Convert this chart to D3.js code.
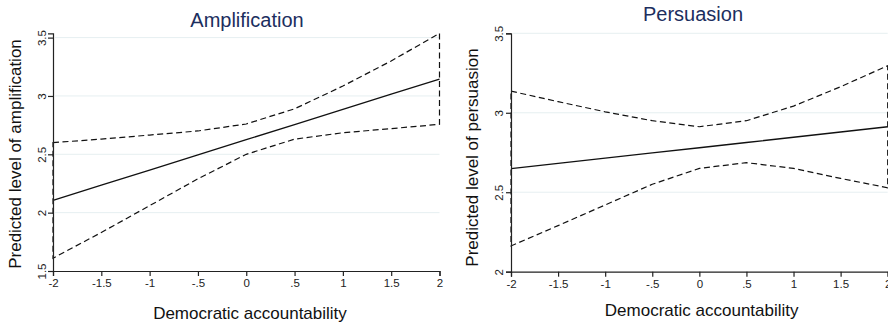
<!DOCTYPE html>
<html>
<head>
<meta charset="utf-8">
<script src="https://cdn.jsdelivr.net/npm/d3@7"></script>
<style>
  html, body { margin: 0; padding: 0; background: #fff; }
  svg { display: block; }
  text { font-family: Arial, "Liberation Sans", Helvetica, sans-serif; }
</style>
</head>
<body>
<svg id="chart" width="888" height="326"></svg>
<script>
// ---- Data ----
const xValues = [-2, -1.5, -1, -0.5, 0, 0.5, 1, 1.5, 2];
const xTickValues = [-2, -1.5, -1, -0.5, 0, 0.5, 1, 1.5, 2];
const xTickLabels = ["-2", "-1.5", "-1", "-.5", "0", ".5", "1", "1.5", "2"];

const ampTitle = "Amplification";
const ampYLabel = "Predicted level of amplification";
const ampFit   = [2.105, 2.235, 2.365, 2.495, 2.625, 2.755, 2.885, 3.015, 3.145];
const ampUpper = [2.60, 2.63, 2.665, 2.70, 2.76, 2.89, 3.085, 3.30, 3.537];
const ampLower = [1.61, 1.83, 2.06, 2.29, 2.50, 2.63, 2.685, 2.72, 2.757];
const ampYTicks = [1.5, 2, 2.5, 3, 3.5];
const ampYTickLabels = ["1.5", "2", "2.5", "3", "3.5"];

const perTitle = "Persuasion";
const perYLabel = "Predicted level of persuasion";
const perFit   = [2.648, 2.681, 2.714, 2.747, 2.78, 2.813, 2.846, 2.879, 2.912];
const perUpper = [3.136, 3.07, 3.006, 2.95, 2.912, 2.95, 3.042, 3.164, 3.296];
const perLower = [2.162, 2.29, 2.42, 2.55, 2.65, 2.686, 2.65, 2.587, 2.528];
const perYTicks = [2, 2.5, 3, 3.5];
const perYTickLabels = ["2", "2.5", "3", "3.5"];

const xLabel = "Democratic accountability";

// ---- Drawing ----
const svg = d3.select("#chart");

function panel(cfg) {
  const g = svg.append("g");
  const x = d3.scaleLinear().domain([-2, 2]).range([cfg.x0, cfg.x1]);
  const y = d3.scaleLinear().domain(cfg.yDomain).range([cfg.yBottom, cfg.yTop]);

  // gridlines
  g.selectAll("line.grid").data(cfg.yTicks.filter(d => d !== cfg.yDomain[0]))
    .enter().append("line")
    .attr("x1", cfg.x0 + 2).attr("x2", cfg.x1)
    .attr("y1", d => y(d)).attr("y2", d => y(d))
    .attr("stroke", "#e6eff1").attr("stroke-width", 1);

  // CI polygon (dashed outline)
  const poly = xValues.map((v, i) => [x(v), y(cfg.upper[i])])
    .concat(xValues.slice().reverse().map((v, i) => [x(v), y(cfg.lower[xValues.length - 1 - i])]));
  g.append("path")
    .attr("d", d3.line()(poly) + "Z")
    .attr("fill", "none").attr("stroke", "#111").attr("stroke-width", 1.2)
    .attr("stroke-dasharray", "6,3.5");

  // fitted line
  g.append("path")
    .datum(xValues.map((v, i) => [x(v), y(cfg.fit[i])]))
    .attr("d", d3.line())
    .attr("fill", "none").attr("stroke", "#111").attr("stroke-width", 1.3);

  // x axis
  const xAxis = d3.axisBottom(x).tickValues(xTickValues)
    .tickFormat((d, i) => xTickLabels[i]).tickSizeOuter(0).tickSize(5).tickPadding(3);
  const xa = g.append("g").attr("transform", `translate(0,${cfg.yBottom})`).call(xAxis);
  xa.select(".domain").attr("stroke", "#222").attr("stroke-width", 1.2);
  xa.selectAll(".tick line").attr("stroke", "#222").attr("stroke-width", 1.2);
  xa.selectAll(".tick text").attr("font-size", 11.5).attr("fill", "#222")
    .attr("font-family", "Arial, 'Liberation Sans', sans-serif");

  // y axis
  const yAxis = d3.axisLeft(y).tickValues(cfg.yTicks)
    .tickFormat((d, i) => cfg.yTickLabels[i]).tickSizeOuter(0).tickSize(5);
  const ya = g.append("g").attr("transform", `translate(${cfg.x0},0)`).call(yAxis);
  ya.select(".domain").attr("stroke", "#222").attr("stroke-width", 1.2);
  ya.selectAll(".tick line").attr("stroke", "#222").attr("stroke-width", 1.2);
  ya.selectAll(".tick text")
    .attr("font-size", 11.5).attr("fill", "#222")
    .attr("font-family", "Arial, 'Liberation Sans', sans-serif")
    .attr("text-anchor", "middle")
    .attr("x", null).attr("dy", null)
    .attr("dominant-baseline", "central")
    .attr("transform", `translate(${cfg.yTickX - cfg.x0},0) rotate(-90)`);

  // titles
  g.append("text").attr("x", cfg.titleX).attr("y", cfg.titleY)
    .attr("text-anchor", "middle").attr("dominant-baseline", "central")
    .attr("font-size", 20).attr("fill", "#1c2e5e").text(cfg.title);

  g.append("text").attr("x", cfg.xLabelX).attr("y", cfg.xLabelY)
    .attr("text-anchor", "middle").attr("dominant-baseline", "central")
    .attr("font-size", 17).attr("fill", "#111").text(xLabel);

  g.append("text")
    .attr("transform", `translate(${cfg.yLabelX},${cfg.yLabelY}) rotate(-90)`)
    .attr("text-anchor", "middle").attr("dominant-baseline", "central")
    .attr("font-size", 17).attr("fill", "#111").text(cfg.yLabel);
}

panel({
  x0: 53, x1: 439.5, yTop: 33.3, yBottom: 271,
  yDomain: [1.5, 3.537],
  yTicks: ampYTicks, yTickLabels: ampYTickLabels,
  fit: ampFit, upper: ampUpper, lower: ampLower,
  title: ampTitle, titleX: 247, titleY: 20,
  xLabelX: 250, xLabelY: 313,
  yLabel: ampYLabel, yLabelX: 15, yLabelY: 154,
  yTickX: 41.7
});

panel({
  x0: 511, x1: 887.7, yTop: 33.3, yBottom: 271.7,
  yDomain: [2, 3.5],
  yTicks: perYTicks, yTickLabels: perYTickLabels,
  fit: perFit, upper: perUpper, lower: perLower,
  title: perTitle, titleX: 693, titleY: 14,
  xLabelX: 701.7, xLabelY: 310,
  yLabel: perYLabel, yLabelX: 472, yLabelY: 157.5,
  yTickX: 499.3
});
</script>
</body>
</html>
